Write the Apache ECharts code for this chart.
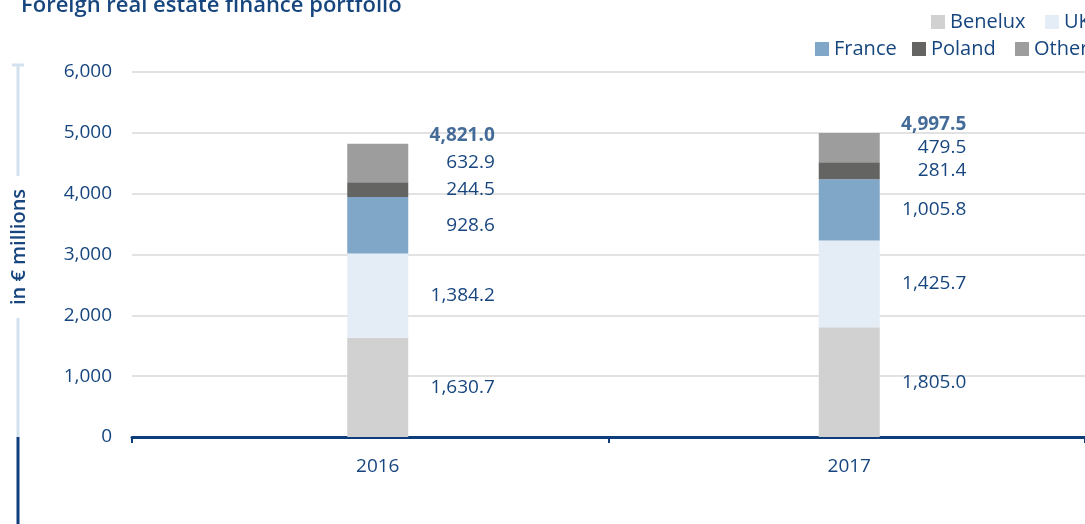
<!DOCTYPE html>
<html>
<head>
<meta charset="utf-8">
<script src="https://cdn.jsdelivr.net/npm/echarts@6/dist/echarts.min.js"></script>
<style>
  html, body { margin: 0; padding: 0; background: #fff; }
  #main { width: 1085px; height: 524px; }
</style>
</head>
<body>
<div id="main"></div>
<script>
var years = ['2016', '2017'];
var benelux = [1630.7, 1805.0];
var uk = [1384.2, 1425.7];
var france = [928.6, 1005.8];
var poland = [244.5, 281.4];
var other = [632.9, 479.5];
var totals = [4821.0, 4997.5];

var blue = '#17467f';
var font = 'Open Sans';

function fmt(v) {
    return v.toLocaleString('en-US', { minimumFractionDigits: 1, maximumFractionDigits: 1 });
}

// bars live in grid 1 (shifted a little right, like the original), axes in grid 0
function barSeries(name, data, color) {
    return {
        name: name,
        type: 'bar',
        stack: 'total',
        xAxisIndex: 1,
        yAxisIndex: 1,
        barWidth: 61,
        data: data,
        itemStyle: { color: color },
        label: {
            show: true,
            position: 'inside',
            align: 'right',
            verticalAlign: 'middle',
            offset: [117, 0],
            color: blue,
            fontSize: 19,
            fontFamily: font,
            formatter: function (p) { return fmt(p.value); }
        }
    };
}

// one legend per item so the row can run off the right edge like the original
function legendItem(name, left, top) {
    return {
        data: [name],
        left: left,
        top: top,
        itemWidth: 14,
        itemHeight: 14,
        icon: 'rect',
        textStyle: { color: blue, fontSize: 20, fontFamily: font }
    };
}

var myCharts = echarts.init(document.getElementById('main'));
var option = {
    animation: false,
    textStyle: { fontFamily: font },
    title: {
        text: 'Foreign real estate finance portfolio',
        left: 16,
        top: -10,
        textStyle: { color: blue, fontSize: 22, fontWeight: 600, fontFamily: font }
    },
    legend: [
        legendItem('Benelux', 926, 7),
        legendItem('UK', 1040, 7),
        legendItem('France', 810, 34),
        legendItem('Poland', 907, 34),
        legendItem('Other', 1010, 34)
    ],
    grid: [
        { left: 132, right: -1, top: 72, bottom: 87 },
        { left: 142, right: -11, top: 72, bottom: 87 }
    ],
    xAxis: [{
        type: 'category',
        gridIndex: 0,
        data: years,
        axisLine: { lineStyle: { color: '#0d3d7a', width: 3 } },
        axisTick: { show: true, length: 6, lineStyle: { color: '#0d3d7a', width: 2 } },
        axisLabel: { show: false }
    }, {
        type: 'category',
        gridIndex: 1,
        data: years,
        axisLine: { show: false },
        axisTick: { show: false },
        axisLabel: { color: blue, fontSize: 19, margin: 20, fontFamily: font }
    }],
    yAxis: [{
        type: 'value',
        gridIndex: 0,
        min: 0,
        max: 6000,
        interval: 1000,
        axisLine: { show: false },
        axisTick: { show: false },
        splitLine: { lineStyle: { color: '#d9d9d9', width: 1.5 } },
        axisLabel: {
            color: blue,
            fontSize: 19,
            margin: 20,
            fontFamily: font,
            formatter: function (v) { return v.toLocaleString('en-US'); }
        }
    }, {
        type: 'value',
        gridIndex: 1,
        min: 0,
        max: 6000,
        interval: 1000,
        show: false,
        splitLine: { show: false }
    }],
    graphic: [
        { type: 'line', shape: { x1: 18, y1: 65, x2: 18, y2: 176 }, style: { stroke: '#d3e0ee', lineWidth: 3 } },
        { type: 'line', shape: { x1: 12, y1: 65, x2: 24, y2: 65 }, style: { stroke: '#d3e0ee', lineWidth: 3 } },
        { type: 'line', shape: { x1: 18, y1: 318, x2: 18, y2: 437 }, style: { stroke: '#d3e0ee', lineWidth: 3 } },
        { type: 'line', shape: { x1: 18, y1: 437, x2: 18, y2: 524 }, style: { stroke: '#0d3d7a', lineWidth: 3 } },
        {
            type: 'text',
            x: 19, y: 247,
            rotation: Math.PI / 2,
            style: {
                text: 'in € millions',
                fill: blue,
                font: '600 20px "Open Sans"',
                textAlign: 'center',
                textVerticalAlign: 'middle'
            }
        }
    ],
    series: [
        barSeries('Benelux', benelux, '#d0d1d0'),
        barSeries('UK', uk, '#e4ecf5'),
        barSeries('France', france, '#80a6c8'),
        barSeries('Poland', poland, '#646463'),
        barSeries('Other', other, '#9c9d9c'),
        {
            name: 'Total',
            type: 'scatter',
            xAxisIndex: 1,
            yAxisIndex: 1,
            symbolSize: 0,
            data: totals,
            silent: true,
            label: {
                show: true,
                position: 'inside',
                align: 'right',
                verticalAlign: 'middle',
                offset: [117, -8],
                color: blue,
                fontSize: 19,
                fontWeight: 'bold',
                fontFamily: font,
                formatter: function (p) { return fmt(p.value); }
            }
        }
    ]
};
myCharts.setOption(option);
</script>
</body>
</html>
